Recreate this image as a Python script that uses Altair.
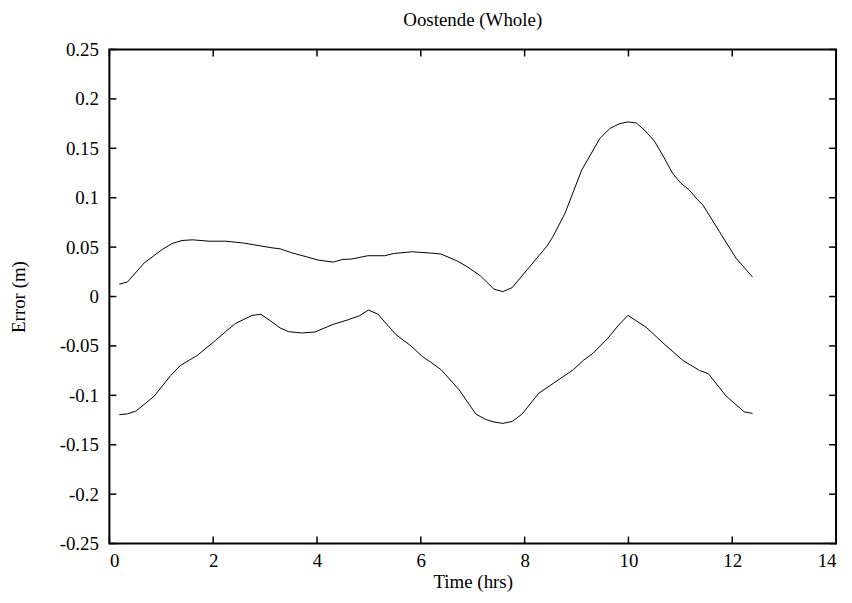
import altair as alt
import pandas as pd

# Upper error envelope
upper_t = [0.19, 0.35, 0.67, 1.02, 1.21, 1.40, 1.60, 1.92, 2.24, 2.56, 2.75, 2.94, 3.13, 3.29,
           3.51, 3.77, 4.02, 4.31, 4.50, 4.66, 4.98, 5.30, 5.49, 5.84, 6.19, 6.39, 6.70, 6.90,
           7.15, 7.41, 7.58, 7.76, 8.11, 8.43, 8.55, 8.78, 9.10, 9.45, 9.64, 9.83, 9.99, 10.15,
           10.31, 10.50, 10.66, 10.85, 11.01, 11.17, 11.33, 11.43, 11.75, 12.07, 12.39]
upper_v = [0.0125, 0.0148, 0.034, 0.0477, 0.0537, 0.0567, 0.0574, 0.056, 0.056, 0.0543, 0.0527,
           0.051, 0.0493, 0.0483, 0.0443, 0.0406, 0.0369, 0.0349, 0.0376, 0.0379, 0.0413, 0.0413,
           0.0436, 0.0453, 0.044, 0.043, 0.036, 0.030, 0.0208, 0.0074, 0.005, 0.009, 0.031, 0.051,
           0.061, 0.0845, 0.128, 0.160, 0.170, 0.175, 0.1767, 0.1757, 0.1684, 0.1573, 0.143,
           0.1248, 0.1147, 0.108, 0.098, 0.093, 0.066, 0.039, 0.0198]

# Lower error envelope
lower_t = [0.19, 0.35, 0.51, 0.86, 1.18, 1.37, 1.69, 2.04, 2.24, 2.43, 2.75, 2.92, 3.10, 3.29,
           3.45, 3.70, 3.96, 4.31, 4.60, 4.82, 4.99, 5.17, 5.33, 5.52, 5.81, 6.03, 6.19, 6.39,
           6.74, 7.06, 7.25, 7.41, 7.58, 7.76, 7.95, 8.27, 8.59, 8.94, 9.13, 9.32, 9.61, 9.80,
           9.99, 10.34, 10.70, 11.05, 11.37, 11.54, 11.88, 12.23, 12.39]
lower_v = [-0.1197, -0.1187, -0.116, -0.101, -0.080, -0.0697, -0.0597, -0.0446, -0.0355, -0.0272,
           -0.0191, -0.018, -0.0245, -0.0318, -0.0355, -0.0369, -0.0359, -0.0282, -0.0235, -0.0194,
           -0.0137, -0.0177, -0.0272, -0.0385, -0.050, -0.0607, -0.0664, -0.074, -0.0945, -0.119,
           -0.1244, -0.127, -0.1284, -0.1264, -0.119, -0.098, -0.0865, -0.074, -0.0647, -0.0573,
           -0.0419, -0.0295, -0.0191, -0.031, -0.0486, -0.0647, -0.0748, -0.0781, -0.1006,
           -0.1167, -0.1183]

x_ticks = [0, 2, 4, 6, 8, 10, 12, 14]
y_ticks = [-0.25, -0.2, -0.15, -0.1, -0.05, 0, 0.05, 0.1, 0.15, 0.2, 0.25]

W, H = 731, 497
TL = 7
FONT = "Liberation Serif"
FS = 19

df = pd.concat([
    pd.DataFrame({"t": upper_t, "v": upper_v, "s": "upper"}),
    pd.DataFrame({"t": lower_t, "v": lower_v, "s": "lower"}),
])

xs = alt.Scale(domain=[0, 14], nice=False, zero=False)
ys = alt.Scale(domain=[-0.25, 0.25], nice=False, zero=False)

ylabel = "datum.value < 0 ? '-' + format(-datum.value, '~g') : format(datum.value, '~g')"

lines = alt.Chart(df).mark_line(color="black", strokeWidth=1).encode(
    x=alt.X("t:Q", scale=xs,
            axis=alt.Axis(values=x_ticks, title="Time (hrs)", format="d")),
    y=alt.Y("v:Q", scale=ys,
            axis=alt.Axis(values=y_ticks, title="Error (m)", labelExpr=ylabel)),
    detail="s:N",
)

xt = pd.DataFrame({"t": x_ticks})
yt = pd.DataFrame({"v": y_ticks})

xb = alt.Chart(xt).mark_rule(color="black", strokeWidth=1.5).encode(
    x=alt.X("t:Q", scale=xs), y=alt.value(H), y2=alt.value(H - TL))
xtop = alt.Chart(xt).mark_rule(color="black", strokeWidth=1.5).encode(
    x=alt.X("t:Q", scale=xs), y=alt.value(0), y2=alt.value(TL))
yl = alt.Chart(yt).mark_rule(color="black", strokeWidth=1.5).encode(
    y=alt.Y("v:Q", scale=ys), x=alt.value(0), x2=alt.value(TL))
yr = alt.Chart(yt).mark_rule(color="black", strokeWidth=1.5).encode(
    y=alt.Y("v:Q", scale=ys), x=alt.value(W), x2=alt.value(W - TL))

chart = alt.layer(lines, xb, xtop, yl, yr).properties(
    width=W, height=H,
    title=alt.TitleParams("Oostende (Whole)", font=FONT, fontSize=FS, fontWeight="normal",
                          anchor="middle", frame="group", offset=11, color="black"),
    autosize=alt.AutoSizeParams(type="none"),
    padding={"left": 102, "top": 40, "right": 8, "bottom": 50},
).configure_view(
    stroke="black", strokeWidth=2
).configure_axis(
    grid=False, domain=False, ticks=False,
    labelFont=FONT, labelFontSize=FS, labelColor="black",
    titleFont=FONT, titleFontSize=FS, titleColor="black", titleFontWeight="normal",
).configure_axisX(
    labelPadding=8, titlePadding=2,
).configure_axisY(
    labelPadding=11, titlePadding=31,
)

chart.save("out.html", embed_options={"renderer": "svg", "actions": False})
